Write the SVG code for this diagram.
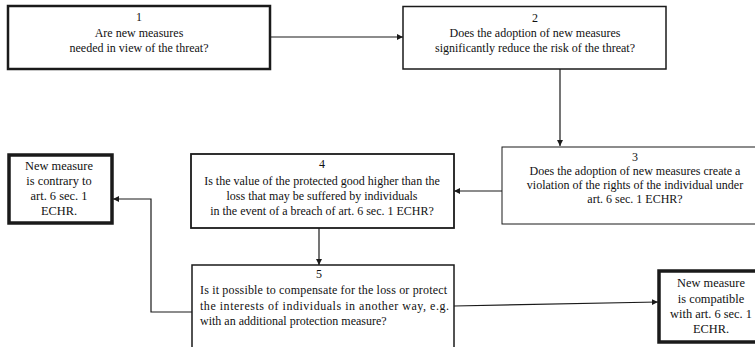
<svg xmlns="http://www.w3.org/2000/svg" width="755" height="347" viewBox="0 0 755 347">
<style>
text{font-family:"Liberation Serif","Times New Roman",serif;font-size:12px;fill:#111}
.c{text-anchor:middle}
.big{font-size:12.4px}
.box{fill:#fff;stroke:#1a1a1a}
.ln{fill:none;stroke:#1a1a1a;stroke-width:1.2}
</style>
<defs>
<marker id="ah" markerWidth="7" markerHeight="7" refX="6" refY="3.5" orient="auto" markerUnits="userSpaceOnUse">
<path d="M0,0.5 L6,3.5 L0,6.5 Z" fill="#1a1a1a"/>
</marker>
</defs>
<g id="connectors">
<line class="ln" x1="271" y1="37" x2="403" y2="37" marker-end="url(#ah)"/>
<line class="ln" x1="560" y1="69" x2="560" y2="146" stroke-width="2" marker-end="url(#ah)"/>
<line class="ln" x1="502" y1="191" x2="454" y2="191" stroke-width="2" marker-end="url(#ah)"/>
<line class="ln" x1="319" y1="228" x2="319" y2="265" marker-end="url(#ah)"/>
<polyline class="ln" points="192,312 151,312 151,199 113,199" marker-end="url(#ah)"/>
<line class="ln" x1="454" y1="306" x2="658" y2="302" marker-end="url(#ah)"/>
</g>
<g id="n1">
<rect class="box" x="8" y="6" width="262" height="63" stroke-width="2.5"/>
<text class="c" x="139" y="21">1</text>
<text class="c" x="139" y="37">Are new measures</text>
<text class="c" x="139" y="52">needed in view of the threat?</text>
</g>
<g id="n2">
<rect class="box" x="403" y="6.5" width="263" height="62.5" stroke-width="1.5"/>
<text class="c" x="535" y="22">2</text>
<text class="c" x="535" y="37">Does the adoption of new measures</text>
<text class="c" x="535" y="52">significantly reduce the risk of the threat?</text>
</g>
<g id="n3">
<rect class="box" x="502" y="147" width="260" height="77" stroke-width="1"/>
<text class="c" x="635" y="161">3</text>
<text class="c" x="635" y="175">Does the adoption of new measures create a</text>
<text class="c" x="635" y="189">violation of the rights of the individual under</text>
<text class="c" x="635" y="203">art. 6 sec. 1 ECHR?</text>
</g>
<g id="n4">
<rect class="box" x="191" y="154" width="263" height="74" stroke-width="1.8"/>
<text class="c" x="322" y="168">4</text>
<text class="c" x="322" y="185">Is the value of the protected good higher than the</text>
<text class="c" x="322" y="200">loss that may be suffered by individuals</text>
<text class="c" x="322" y="215">in the event of a breach of art. 6 sec. 1 ECHR?</text>
</g>
<g id="n5">
<rect class="box" x="192" y="265" width="262" height="90" stroke-width="1.5"/>
<text class="c" x="319" y="278">5</text>
<text x="200" y="294" textLength="247" lengthAdjust="spacing">Is it possible to compensate for the loss or protect</text>
<text x="200" y="310" textLength="249" lengthAdjust="spacing">the interests of individuals in another way, e.g.</text>
<text x="200" y="325">with an additional protection measure?</text>
</g>
<g id="contrary">
<rect class="box" x="9" y="155" width="103" height="68" stroke-width="3.5"/>
<text class="c big" x="59" y="170">New measure</text>
<text class="c big" x="59" y="185">is contrary to</text>
<text class="c big" x="59" y="200">art. 6 sec. 1</text>
<text class="c big" x="59" y="215">ECHR.</text>
</g>
<g id="compatible">
<rect class="box" x="659" y="271" width="100" height="71" stroke-width="3.5"/>
<text class="c big" x="711" y="287">New measure</text>
<text class="c big" x="711" y="303">is compatible</text>
<text class="c big" x="711" y="318">with art. 6 sec. 1</text>
<text class="c big" x="711" y="333">ECHR.</text>
</g>
</svg>
